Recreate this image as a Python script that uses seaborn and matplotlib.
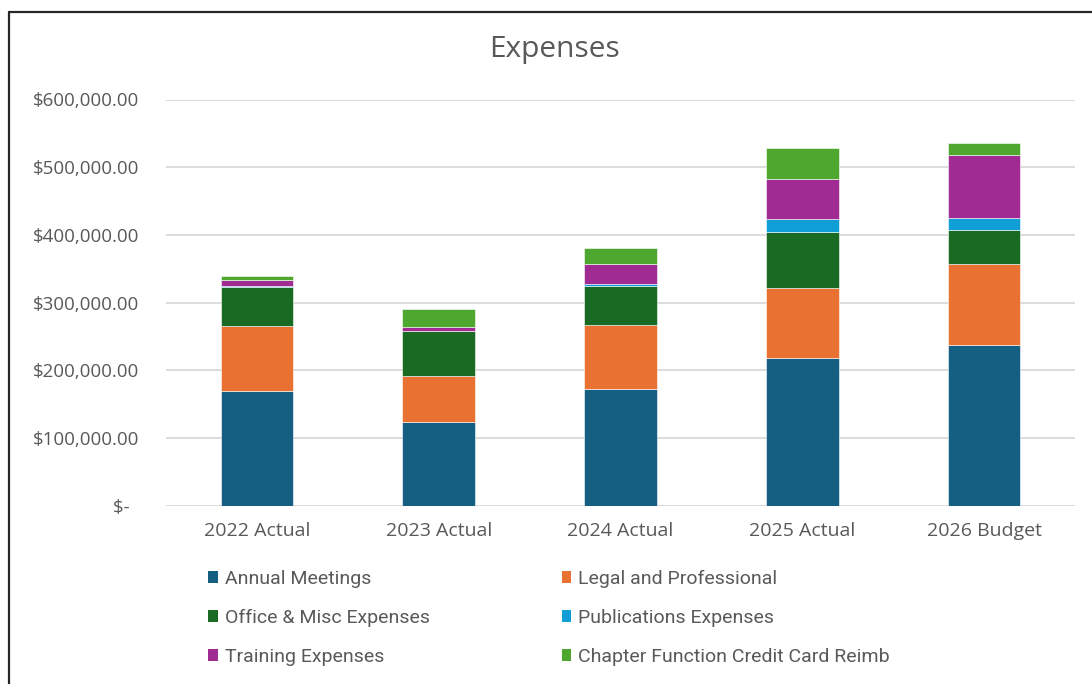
import matplotlib
matplotlib.use("Agg")
import matplotlib.pyplot as plt
from matplotlib.patches import Patch
from matplotlib.lines import Line2D
from matplotlib.ticker import FuncFormatter
import seaborn as sns
import pandas as pd
import numpy as np

# values (dollars)
years = ["2022 Actual", "2023 Actual", "2024 Actual", "2025 Actual", "2026 Budget"]
annual_meetings = [168700, 123300, 171600, 217900, 237100]
legal_professional = [96500, 67900, 95000, 103800, 119200]
office_misc = [57200, 66500, 58100, 82700, 51100]
publications = [1500, 0, 2100, 18800, 17700]
training = [9900, 6400, 30400, 59500, 92600]
chapter_reimb = [5300, 26100, 23200, 45300, 17300]

series_names = ["Annual Meetings", "Legal and Professional", "Office & Misc Expenses",
                "Publications Expenses", "Training Expenses", "Chapter Function Credit Card Reimb"]
series_vals = [annual_meetings, legal_professional, office_misc,
               publications, training, chapter_reimb]
colors = ["#156082", "#E97132", "#196B24", "#0F9ED5", "#A02B93", "#4EA72E"]

sns.set_theme(style="white")
plt.rcParams["font.family"] = ["Open Sans", "DejaVu Sans"]

fig = plt.figure(figsize=(10.92, 6.84), dpi=100)
ax = fig.add_axes([166 / 1092, 1 - 505.5 / 684, (1075 - 166) / 1092, (505.5 - 99.5) / 684])

bottom = np.zeros(len(years))
for name, vals, col in zip(series_names, series_vals, colors):
    df = pd.DataFrame({"year": years, "value": vals})
    sns.barplot(data=df, x="year", y="value", color=col, saturation=1, width=0.4,
                bottom=bottom, errorbar=None, ax=ax, linewidth=0.4, edgecolor="white")
    bottom = bottom + np.array(vals)

ax.set_ylim(0, 600000)
ax.set_xlim(-0.5, len(years) - 0.5)
ax.set_yticks(np.arange(0, 600001, 100000))
ax.yaxis.set_major_formatter(FuncFormatter(lambda v, p: "$-  " if v == 0 else f"${v:,.2f}"))
ax.grid(axis="y", color="#D9D9D9", linewidth=1.3)
ax.set_axisbelow(True)
for s in ax.spines.values():
    s.set_visible(False)
ax.set_xlabel("")
ax.set_ylabel("")
ax.tick_params(axis="y", length=0, pad=19, labelsize=13.5, labelcolor="#595959")
ax.tick_params(axis="x", length=0, pad=12, labelsize=14, labelcolor="#595959")

fig.text(555 / 1092, 1 - 50 / 684, "Expenses", ha="center", va="center",
         fontsize=21.5, color="#595959")

# legend filled row by row like the reference
handles = [Patch(facecolor=c, edgecolor="none") for c in colors]
order = [0, 2, 4, 1, 3, 5]
leg = fig.legend([handles[i] for i in order], [series_names[i] for i in order],
                 ncol=2, loc="upper left", bbox_to_anchor=(208 / 1092, 1 - 570 / 684),
                 frameon=False, fontsize=14, handlelength=0.5, handleheight=0.55,
                 handletextpad=0.35, labelspacing=1.08, columnspacing=6.8,
                 borderpad=0, borderaxespad=0)
for t in leg.get_texts():
    t.set_color("#595959")
    t.set_family(["Roboto", "DejaVu Sans"])

# chart frame edges visible in the reference crop
fig.add_artist(Line2D([8.5 / 1092, 8.5 / 1092], [0, 1 - 11.5 / 684], color="#262626",
                      linewidth=1.6, transform=fig.transFigure))
fig.add_artist(Line2D([8.5 / 1092, 1], [1 - 11.5 / 684, 1 - 11.5 / 684], color="#262626",
                      linewidth=1.6, transform=fig.transFigure))

fig.savefig("out.png", dpi=100, facecolor="white")
